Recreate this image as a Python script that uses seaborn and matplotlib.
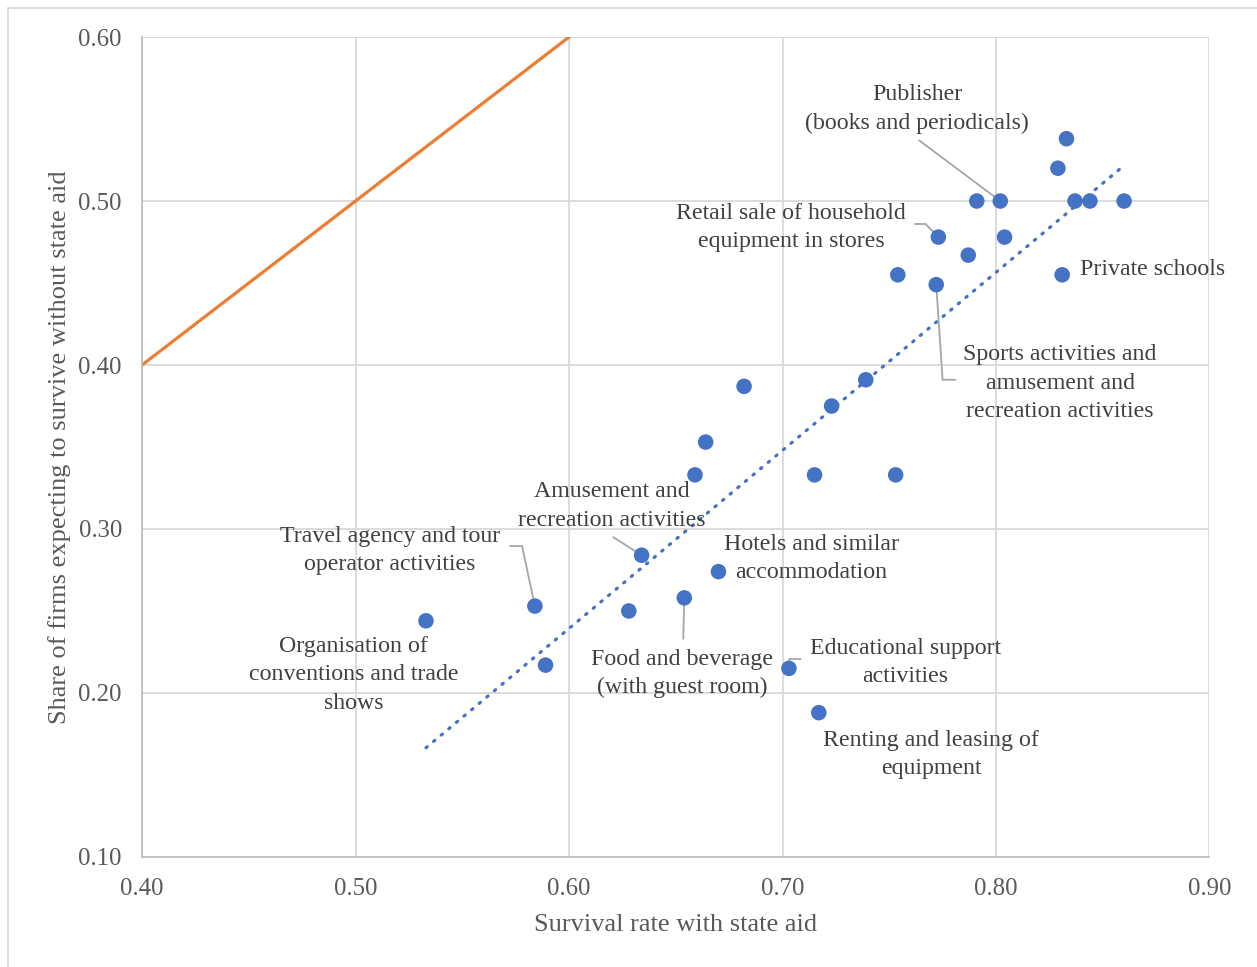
import numpy as np
import pandas as pd
import matplotlib.pyplot as plt
from matplotlib.patches import Rectangle
import seaborn as sns

# Survival rate with state aid (x) vs share expecting to survive without aid (y)
survival_with_aid = [0.533, 0.584, 0.589, 0.628, 0.634, 0.654, 0.659, 0.664, 0.670,
                     0.682, 0.703, 0.715, 0.717, 0.723, 0.739, 0.753, 0.754, 0.772,
                     0.773, 0.787, 0.791, 0.802, 0.804, 0.829, 0.831, 0.833, 0.837,
                     0.844, 0.860]
share_without_aid = [0.244, 0.253, 0.217, 0.250, 0.284, 0.258, 0.333, 0.353, 0.274,
                     0.387, 0.215, 0.333, 0.188, 0.375, 0.391, 0.333, 0.455, 0.449,
                     0.478, 0.467, 0.500, 0.500, 0.478, 0.520, 0.455, 0.538, 0.500,
                     0.500, 0.500]

x_ticks = [0.40, 0.50, 0.60, 0.70, 0.80, 0.90]
y_ticks = [0.10, 0.20, 0.30, 0.40, 0.50, 0.60]

# label text, index of the labelled point, text position, leader-line bend points
labels = [
    ("Publisher\n(books and periodicals)", 21, (0.763, 0.556), [(0.764, 0.537)]),
    ("Retail sale of household\nequipment in stores", 18, (0.704, 0.484),
     [(0.762, 0.486), (0.767, 0.486)]),
    ("Private schools", 24, (0.8395, 0.458), None),
    ("Sports activities and\namusement and\nrecreation activities", 17, (0.830, 0.389),
     [(0.781, 0.391), (0.775, 0.391)]),
    ("Amusement and\nrecreation activities", 4, (0.620, 0.314), [(0.6207, 0.295)]),
    ("Travel agency and tour\noperator activities", 1, (0.516, 0.287),
     [(0.5724, 0.2896), (0.578, 0.2896)]),
    ("Hotels and similar\naccommodation", 8, (0.7135, 0.282), None),
    ("Organisation of\nconventions and trade\nshows", 0, (0.499, 0.211), None),
    ("Food and beverage\n(with guest room)", 5, (0.653, 0.212), [(0.6535, 0.233)]),
    ("Educational support\nactivities", 10, (0.7575, 0.2185),
     [(0.7085, 0.2207), (0.7032, 0.2207)]),
    ("Renting and leasing of\nequipment", 12, (0.7697, 0.1625), None),
]

df = pd.DataFrame({"with_aid": survival_with_aid, "without_aid": share_without_aid})

sns.set_theme(style="white")
plt.rcParams['font.family'] = ['Liberation Serif', 'DejaVu Serif']

blue = "#4472C4"
orange = "#ED7D31"
grid_col = "#D9D9D9"
text_col = "#595959"

fig = plt.figure(figsize=(12.57, 9.67), dpi=100)
ax = fig.add_axes([0.113, 0.1138, 0.8492, 0.8479])

# 45-degree reference line
ax.plot([0.4, 0.6], [0.4, 0.6], color=orange, lw=2.3, zorder=2, clip_on=True)

# linear trend (dotted)
sns.regplot(data=df, x="with_aid", y="without_aid", scatter=False, ci=None,
            truncate=True, ax=ax,
            line_kws=dict(color=blue, lw=2.3, linestyle=(0, (0.5, 2.6)),
                          dash_capstyle="round", zorder=3))

sns.scatterplot(data=df, x="with_aid", y="without_aid", ax=ax, color=blue,
                s=125, edgecolor="none", zorder=4)

for text, idx, pos, bends in labels:
    px, py = survival_with_aid[idx], share_without_aid[idx]
    if bends:
        xs = [b[0] for b in bends] + [px]
        ys = [b[1] for b in bends] + [py]
        ax.plot(xs, ys, color="#A6A6A6", lw=1.3, zorder=3)
    ha = "left" if text == "Private schools" else "center"
    ax.text(pos[0], pos[1], text, ha=ha, va="center", fontsize=17.2,
            color="#404040", linespacing=1.45, zorder=5)

ax.set_xlim(0.40, 0.90)
ax.set_ylim(0.10, 0.60)
ax.set_xticks(x_ticks)
ax.set_yticks(y_ticks)
ax.set_xticklabels([f"{v:.2f}" for v in x_ticks])
ax.set_yticklabels([f"{v:.2f}" for v in y_ticks])
ax.tick_params(axis="both", length=0, labelsize=17.8, labelcolor=text_col)
ax.tick_params(axis="x", pad=15)
ax.tick_params(axis="y", pad=14.5)
ax.grid(True, color=grid_col, lw=1.3)
ax.set_axisbelow(True)
for side in ["top", "right"]:
    ax.spines[side].set_visible(False)
for side in ["left", "bottom"]:
    ax.spines[side].set_color("#BFBFBF")
    ax.spines[side].set_linewidth(1.3)

ax.set_xlabel("Survival rate with state aid", fontsize=19, color=text_col, labelpad=10)
ax.set_ylabel("Share of firms expecting to survive without state aid", fontsize=19,
              color=text_col, labelpad=5)

fig.patches.append(Rectangle((8 / 1257, -0.02), 1.05, 1 - 8 / 967 + 0.02,
                             transform=fig.transFigure, fill=False,
                             edgecolor=grid_col, lw=1.3))

fig.savefig("out.png", dpi=100)
